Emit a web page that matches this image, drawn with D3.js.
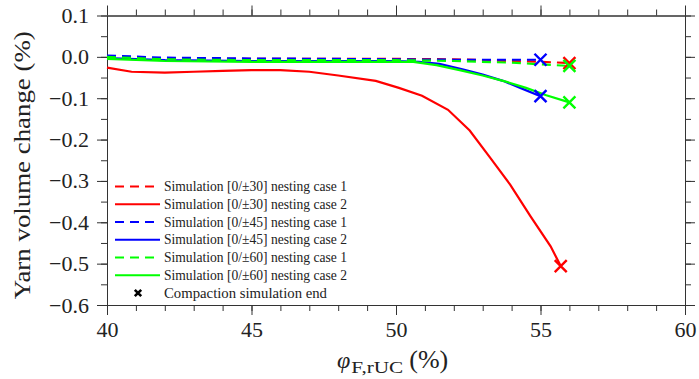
<!DOCTYPE html>
<html>
<head>
<meta charset="utf-8">
<script src="https://cdn.jsdelivr.net/npm/d3@7"></script>
<style>
  body { margin: 0; background: #fff; }
  svg text { font-family: "Liberation Serif", "DejaVu Serif", serif; fill: #222; }
</style>
</head>
<body>
<script>
// data (phi_F,rUC in %, yarn volume change in %)
const red1X = [40, 42, 45, 48, 50, 52, 54, 55, 56];
const red1Y = [0.0, -0.004, -0.005, -0.005, -0.005, -0.006, -0.01, -0.012, -0.015];
const red2X = [40, 40.85, 42, 43, 44, 45, 46, 47, 48, 49.3, 50.1, 50.9, 51.8, 52.55, 53.25, 53.95, 54.65, 55.35, 55.7];
const red2Y = [-0.026, -0.036, -0.038, -0.036, -0.034, -0.032, -0.032, -0.036, -0.045, -0.058, -0.075, -0.094, -0.128, -0.178, -0.243, -0.309, -0.385, -0.458, -0.506];
const blue1X = [40, 42, 45, 48, 50, 52, 54, 55];
const blue1Y = [0.003, -0.002, -0.004, -0.005, -0.006, -0.007, -0.007, -0.007];
const blue2X = [40, 42, 45, 48, 50, 50.8, 51.5, 52.3, 53, 53.7, 54.3, 55];
const blue2Y = [-0.003, -0.008, -0.01, -0.01, -0.01, -0.012, -0.017, -0.03, -0.043, -0.058, -0.075, -0.095];
const green1X = [40, 42, 45, 48, 50, 52, 54, 55, 56];
const green1Y = [0.0, -0.006, -0.008, -0.008, -0.008, -0.01, -0.014, -0.018, -0.022];
const green2X = [40, 42, 45, 48, 50, 50.6, 51.4, 52.2, 53, 53.8, 54.5, 55.2, 56];
const green2Y = [-0.005, -0.01, -0.012, -0.012, -0.012, -0.012, -0.02, -0.032, -0.045, -0.06, -0.075, -0.093, -0.11];

const xTicks = [40, 45, 50, 55, 60];
const yTicks = [0.1, 0.0, -0.1, -0.2, -0.3, -0.4, -0.5, -0.6];

const series = [
  { name: "Simulation [0/\u00b130] nesting case 1", x: red1X, y: red1Y, color: "#ff0000", dash: "9,6" },
  { name: "Simulation [0/\u00b130] nesting case 2", x: red2X, y: red2Y, color: "#ff0000", dash: null },
  { name: "Simulation [0/\u00b145] nesting case 1", x: blue1X, y: blue1Y, color: "#0000ff", dash: "9,6" },
  { name: "Simulation [0/\u00b145] nesting case 2", x: blue2X, y: blue2Y, color: "#0000ff", dash: null },
  { name: "Simulation [0/\u00b160] nesting case 1", x: green1X, y: green1Y, color: "#00ff00", dash: "9,6" },
  { name: "Simulation [0/\u00b160] nesting case 2", x: green2X, y: green2Y, color: "#00ff00", dash: null },
];

const width = 699, height = 379;
const margin = { left: 107, right: 14, top: 15.5, bottom: 74 };
const serif = '"Liberation Serif", "DejaVu Serif", serif';

const svg = d3.select("body").append("svg")
  .attr("width", width).attr("height", height);

const x = d3.scaleLinear().domain([40, 60]).range([margin.left, width - margin.right]);
const y = d3.scaleLinear().domain([-0.6, 0.1]).range([height - margin.bottom, margin.top]);

const fmt = (d) => (d < 0 ? "\u2212" : "") + Math.abs(d).toFixed(1);

// axes, ticks outward on all four sides
const axisStyle = (g) => {
  g.select(".domain").attr("stroke", "#333");
  g.selectAll(".tick line").attr("stroke", "#333");
  g.selectAll("text").style("font-family", serif).style("font-size", "22px").attr("fill", "#222");
};
const minorX = d3.range(40, 60.01, 1);
const minorY = d3.range(-0.6, 0.101, 0.05);

svg.append("g").attr("transform", `translate(0,${y(-0.6)})`)
  .call(d3.axisBottom(x).tickValues(minorX).tickSize(6).tickFormat("").tickSizeOuter(0)).call(axisStyle);
svg.append("g").attr("transform", `translate(0,${y(-0.6)})`)
  .call(d3.axisBottom(x).tickValues(xTicks).tickSize(10).tickSizeOuter(0).tickPadding(6))
  .call(axisStyle);

svg.append("g").attr("transform", `translate(0,${y(0.1)})`)
  .call(d3.axisTop(x).tickValues(minorX).tickSize(6).tickFormat("").tickSizeOuter(0)).call(axisStyle);
svg.append("g").attr("transform", `translate(0,${y(0.1)})`)
  .call(d3.axisTop(x).tickValues(xTicks).tickSize(10).tickFormat("").tickSizeOuter(0)).call(axisStyle);

svg.append("g").attr("transform", `translate(${x(40)},0)`)
  .call(d3.axisLeft(y).tickValues(minorY).tickSize(6).tickFormat("").tickSizeOuter(0)).call(axisStyle);
svg.append("g").attr("transform", `translate(${x(40)},0)`)
  .call(d3.axisLeft(y).tickValues(yTicks).tickSize(10).tickSizeOuter(0).tickPadding(8).tickFormat(fmt))
  .call(axisStyle);

svg.append("g").attr("transform", `translate(${x(60)},0)`)
  .call(d3.axisRight(y).tickValues(minorY).tickSize(6).tickFormat("").tickSizeOuter(0)).call(axisStyle);
svg.append("g").attr("transform", `translate(${x(60)},0)`)
  .call(d3.axisRight(y).tickValues(yTicks).tickSize(10).tickFormat("").tickSizeOuter(0)).call(axisStyle);

// lines
const line = d3.line().x((d) => x(d[0])).y((d) => y(d[1]));
const plot = svg.append("g");
series.forEach((s) => {
  const pts = s.x.map((v, i) => [v, s.y[i]]);
  plot.append("path")
    .datum(pts)
    .attr("d", line)
    .attr("fill", "none")
    .attr("stroke", s.color)
    .attr("stroke-width", 2.2)
    .attr("stroke-dasharray", s.dash);
});

// end markers
const cross = (g, cx, cy, r, color, w) => {
  g.append("path")
    .attr("d", `M${cx - r},${cy - r}L${cx + r},${cy + r}M${cx - r},${cy + r}L${cx + r},${cy - r}`)
    .attr("stroke", color).attr("stroke-width", w).attr("fill", "none");
};
series.forEach((s) => {
  const n = s.x.length - 1;
  cross(plot, x(s.x[n]), y(s.y[n]), 6, s.color, 2.4);
});

// legend
const legend = svg.append("g");
const legY0 = 186.5, legStep = 17.75;
series.forEach((s, i) => {
  const ly = legY0 + i * legStep;
  legend.append("line")
    .attr("x1", 115).attr("x2", 160).attr("y1", ly).attr("y2", ly)
    .attr("stroke", s.color).attr("stroke-width", 2.2)
    .attr("stroke-dasharray", s.dash);
  legend.append("text")
    .attr("x", 164).attr("y", ly + 4.5)
    .attr("font-size", 14.5)
    .attr("textLength", 183).attr("lengthAdjust", "spacingAndGlyphs")
    .text(s.name);
});
const lyEnd = legY0 + 6 * legStep;
cross(legend, 138, lyEnd, 3.2, "#000", 2.6);
legend.append("text")
  .attr("x", 164).attr("y", lyEnd + 4.5)
  .attr("font-size", 14.5)
  .attr("textLength", 163).attr("lengthAdjust", "spacingAndGlyphs")
  .text("Compaction simulation end");

// axis titles
svg.append("text")
  .attr("transform", `translate(30,${(y(0.1) + y(-0.6)) / 2 + 5}) rotate(-90)`)
  .attr("text-anchor", "middle")
  .attr("font-size", 23)
  .attr("textLength", 268).attr("lengthAdjust", "spacingAndGlyphs")
  .text("Yarn volume change (%)");

const xl = svg.append("text")
  .attr("x", 337).attr("y", 368)
  .attr("font-size", 24);
xl.append("tspan").attr("font-style", "italic").text("\u03c6");
xl.append("tspan").attr("font-size", 16).attr("dy", 5).attr("dx", 1)
  .attr("textLength", 52).attr("lengthAdjust", "spacingAndGlyphs").text("F,rUC");
xl.append("tspan").attr("dy", -5).attr("dx", 6).attr("font-size", 26).text("(%)");
</script>
</body>
</html>
